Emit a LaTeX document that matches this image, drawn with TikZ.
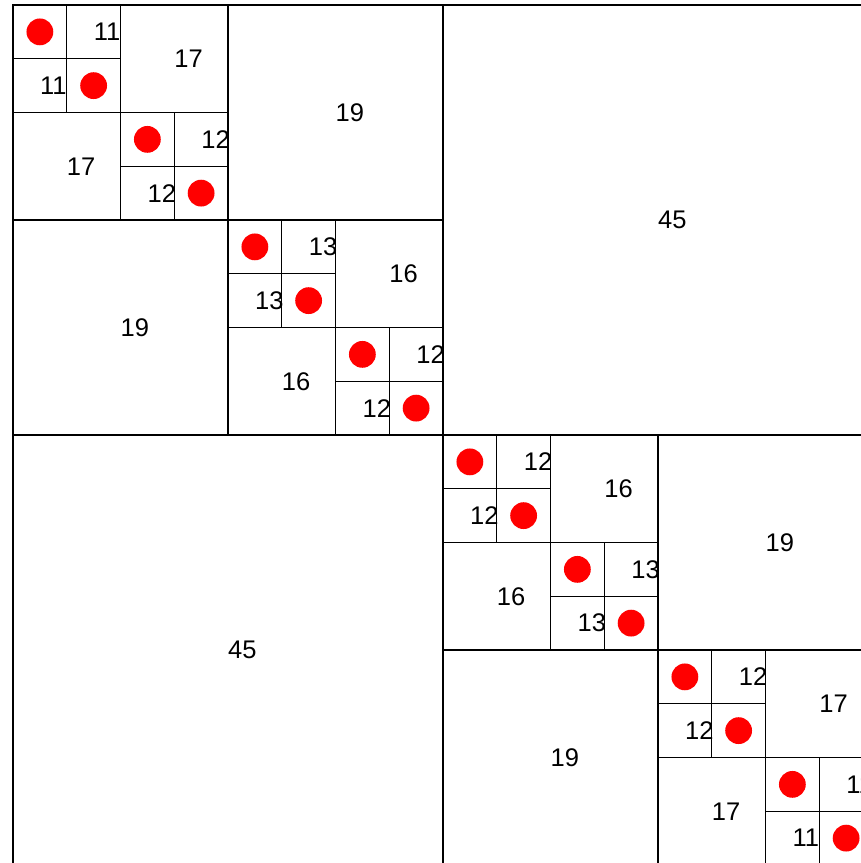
\documentclass[tikz,border=0pt]{standalone}
\usepackage{fontspec}
\setmainfont{Liberation Sans}
\begin{document}
\begin{tikzpicture}
\useasboundingbox (0,0) rectangle (861bp,-863bp);
\clip (0,0) rectangle (861bp,-863bp);
\begin{scope}[x=53.75bp,y=-53.75bp,shift={(13bp,-5bp)},
  cell/.style={draw=black,line width=1.2bp},
  lab/.style={anchor=west,inner sep=0pt,font=\fontsize{25.5bp}{30bp}\selectfont},
  reddot/.style={fill=red}]
% level 1: unit cells
\foreach \k/\v [count=\n] in {0/11,2/12,4/13,6/12,8/12,10/13,12/12,14/11} {
  \draw[cell] (\k,\k) rectangle ++(1,1);
  \draw[cell] (\k+1,\k) rectangle ++(1,1);
  \draw[cell] (\k,\k+1) rectangle ++(1,1);
  \draw[cell] (\k+1,\k+1) rectangle ++(1,1);
  \fill[reddot] (\k+0.5,\k+0.5) circle[radius=13.4bp];
  \fill[reddot] (\k+1.5,\k+1.5) circle[radius=13.4bp];
  \node[lab] (pa\n) at (\k+1.5,\k+0.5) {\v};
  \node[lab] (pb\n) at (\k+0.5,\k+1.5) {\v};
}
% level 2
\foreach \k/\v [count=\n] in {0/17,4/16,8/16,12/17} {
  \draw[cell] (\k+2,\k) rectangle ++(2,2);
  \draw[cell] (\k,\k+2) rectangle ++(2,2);
  \node[lab] (qa\n) at (\k+3,\k+1) {\v};
  \node[lab] (qb\n) at (\k+1,\k+3) {\v};
}
% level 3
\foreach \k/\v [count=\n] in {0/19,8/19} {
  \draw[cell] (\k+4,\k) rectangle ++(4,4);
  \draw[cell] (\k,\k+4) rectangle ++(4,4);
  \node[lab] (ra\n) at (\k+6,\k+2) {\v};
  \node[lab] (rb\n) at (\k+2,\k+6) {\v};
}
% level 4
\draw[cell] (8,0) rectangle ++(8,8);
\draw[cell] (0,8) rectangle ++(8,8);
\node[lab] (sa) at (12,4) {45};
\node[lab] (sb) at (4,12) {45};
\end{scope}
\end{tikzpicture}
\end{document}
